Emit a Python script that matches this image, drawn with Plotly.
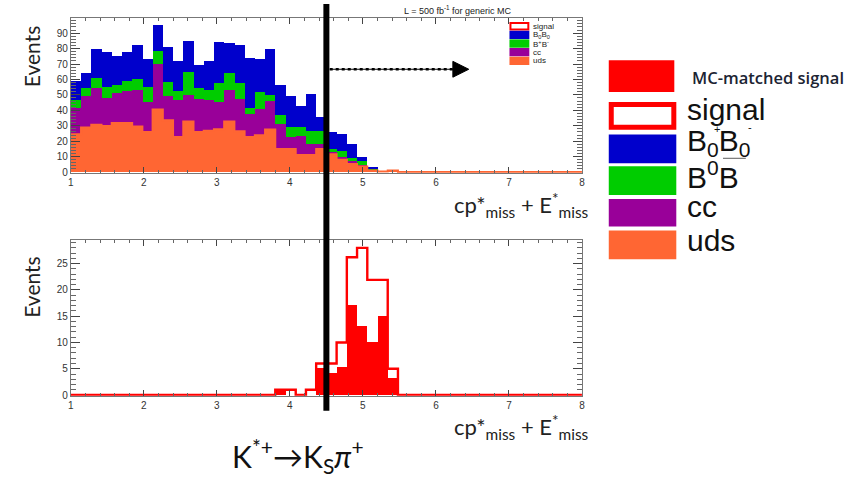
import numpy as np
import plotly.graph_objects as go

# ---------------- data ----------------
X_MIN, X_MAX, N_BINS = 1.0, 8.0, 50
CUT = 4.5  # hand-drawn selection cut

# top panel: stacked generic MC (50 bins, 1..8)
uds = [24.5, 28.8, 30.7, 29.9, 31.8, 31.8, 29.6, 26.0, 40.5, 33.5,
       22.8, 32.8, 26.0, 26.7, 27.7, 32.8, 26.4, 22.8, 23.9, 27.5,
       15.0, 15.0, 11.0, 11.0, 15.0, 11.5, 8.0, 5.3, 3.6, 1.0,
       0.4, 1.0] + [0.0] * 18
cc = [16.5, 20.0, 23.3, 18.1, 19.2, 20.2, 23.1, 19.2, 29.2, 15.3,
      23.5, 17.1, 21.3, 19.6, 17.5, 19.9, 20.5, 14.9, 17.0, 18.1,
      15.7, 7.5, 12.0, 7.0, 3.0, 1.0, 1.5, 1.5, 1.1, 0.5,
      0.0, 0.0] + [0.0] * 18
bpbm = [5.7, 5.2, 7.0, 7.0, 4.9, 7.0, 7.3, 10.0, 8.3, 9.2,
        5.7, 14.9, 6.9, 6.4, 12.4, 11.1, 10.7, 3.7, 10.7, 4.3,
        6.0, 6.2, 6.0, 8.7, 8.5, 2.0, 4.1, 2.2, 2.1, 0.9,
        0.0, 0.0] + [0.0] * 18
b0b0 = [12.3, 9.8, 18.7, 22.8, 19.1, 18.8, 21.9, 17.7, 16.9, 22.8,
        19.9, 19.8, 14.8, 19.2, 26.4, 19.4, 24.5, 32.6, 21.3, 29.8,
        19.8, 20.1, 13.6, 23.8, 9.1, 11.0, 10.7, 8.9, 2.6, 0.2,
        0.0, 0.0] + [0.0] * 18

# bottom panel: signal MC
signal = [0.0] * 20 + [1.0, 1.0, 0.0, 1.0, 6.0, 6.0, 10.0, 26.2, 28.0, 21.9,
                       21.9, 5.0] + [0.0] * 18
matched = [0.0] * 20 + [1.0, 0.0, 0.0, 0.0, 5.1, 4.1, 5.2, 17.1, 13.0, 10.0,
                        15.0, 3.1] + [0.0] * 18

x_ticks = [1, 2, 3, 4, 5, 6, 7, 8]
TOP_YMAX = 99.6
BOT_YMAX = 29.4

# ---------------- style ----------------
RED = "#ff0000"
BLUE = "#0000cc"
GREEN = "#00cc00"
PURPLE = "#990099"
ORANGE = "#ff6633"
W, H = 865, 482


def px(x):
    return x / W


def py(y):
    return 1 - y / H


edges = np.linspace(X_MIN, X_MAX, N_BINS + 1)
centers = 0.5 * (edges[:-1] + edges[1:])
bw = edges[1] - edges[0]

fig = go.Figure()

# stacked histogram (top)
for vals, color in [(uds, ORANGE), (cc, PURPLE), (bpbm, GREEN), (b0b0, BLUE)]:
    fig.add_trace(go.Bar(x=centers, y=vals, width=bw, marker=dict(color=color, line=dict(width=0)),
                         xaxis="x", yaxis="y", showlegend=False, hoverinfo="skip"))
fig.add_trace(go.Scatter(x=list(edges), y=uds + [uds[-1]], mode="lines", line=dict(color=ORANGE, width=2, shape="hv"),
                         xaxis="x", yaxis="y", showlegend=False, hoverinfo="skip"))

# bottom: matched signal filled + signal outline
fig.add_trace(go.Bar(x=centers, y=matched, width=bw, marker=dict(color=RED, line=dict(width=0)),
                     xaxis="x2", yaxis="y2", showlegend=False, hoverinfo="skip"))
fig.add_trace(go.Scatter(x=list(edges), y=signal + [signal[-1]], mode="lines",
                         line=dict(color=RED, width=2.4, shape="hv"),
                         xaxis="x2", yaxis="y2", showlegend=False, hoverinfo="skip"))

tickfont = dict(family="Liberation Sans, Arial, sans-serif", size=10, color="#333")
xdom = [px(68.3), px(583)]


def xax(anchor):
    return dict(domain=xdom, range=[X_MIN, X_MAX], anchor=anchor, tickmode="array", tickvals=x_ticks,
                ticktext=[str(t) for t in x_ticks], ticks="inside", ticklen=6, tickcolor="#444",
                minor=dict(dtick=0.2, tick0=1, ticks="inside", ticklen=3, tickcolor="#666"),
                showline=True, linecolor="#777", linewidth=1, mirror="allticks", showgrid=False,
                zeroline=False, tickfont=tickfont, fixedrange=True)


def yax(anchor, dom, rng, dt, mdt):
    return dict(domain=dom, range=rng, anchor=anchor, dtick=dt, tick0=0, ticks="inside", ticklen=9,
                tickcolor="#444", minor=dict(dtick=mdt, ticks="inside", ticklen=5, tickcolor="#666"),
                showline=True, linecolor="#777", linewidth=1, mirror="allticks", showgrid=False,
                zeroline=False, tickfont=tickfont, fixedrange=True)


shapes = []
annotations = []

# hand-drawn cut line and arrow
shapes.append(dict(type="line", xref="x", yref="paper", x0=CUT, x1=CUT, y0=py(415), y1=py(4),
                   line=dict(color="black", width=6)))
shapes.append(dict(type="line", xref="paper", yref="paper", x0=px(329), x1=px(456), y0=py(70), y1=py(70),
                   line=dict(color="black", width=2.5, dash="dot")))
shapes.append(dict(type="line", xref="paper", yref="paper", x0=px(329), x1=px(456), y0=py(70), y1=py(70),
                   line=dict(color="black", width=1.2)))
shapes.append(dict(type="path", xref="paper", yref="paper",
                   path=f"M {px(453)},{py(62)} L {px(469)},{py(70)} L {px(453)},{py(78)} Z",
                   fillcolor="black", line=dict(color="black", width=1)))

# small in-frame legend (top panel)
small_rows = [("signal", None), ("B<sub>0</sub>B<sub>0</sub>", BLUE), ("B<sup>+</sup>B<sup>-</sup>", GREEN),
              ("cc", PURPLE), ("uds", ORANGE)]
row_y = [26.5, 35.3, 44.0, 52.7, 61.5]
for (label, col), yc in zip(small_rows, row_y):
    if col is None:
        shapes.append(dict(type="rect", xref="paper", yref="paper", x0=px(511), x1=px(529), y0=py(yc + 3.2),
                           y1=py(yc - 3.2), fillcolor="white", line=dict(color=RED, width=2)))
    else:
        shapes.append(dict(type="rect", xref="paper", yref="paper", x0=px(510), x1=px(530), y0=py(yc + 4.2),
                           y1=py(yc - 4.2), fillcolor=col, line=dict(width=0)))
    annotations.append(dict(x=px(532), y=py(yc), xref="paper", yref="paper", text=label, showarrow=False,
                            xanchor="left", yanchor="middle",
                            font=dict(family="Liberation Sans, Arial", size=8, color="#222")))

annotations.append(dict(x=px(458), y=py(10), xref="paper", yref="paper",
                        text="L = 500 fb<sup>-1</sup> for generic MC", showarrow=False,
                        xanchor="center", yanchor="middle",
                        font=dict(family="Liberation Sans, Arial", size=9, color="#222")))

# axis titles
title_font = dict(family="Lato, sans-serif", size=21, color="#222")
for yc in [57, 290]:
    annotations.append(dict(x=px(29), y=py(yc), xref="paper", yref="paper", text="Events", textangle=-90,
                            showarrow=False, xanchor="center", yanchor="middle", font=title_font))
xlabel = "cp*<sub>miss</sub> + E<sup>*</sup><sub>miss</sub>"
for yc in [207, 431]:
    annotations.append(dict(x=px(592), y=py(yc), xref="paper", yref="paper", text=xlabel, showarrow=False,
                            xanchor="right", yanchor="middle", font=dict(family="Lato, sans-serif", size=22,
                                                                         color="#222")))
annotations.append(dict(x=px(297), y=py(461), xref="paper", yref="paper",
                        text="K<sup>*+</sup>→K<sub>S</sub><i>π</i><sup>+</sup>", showarrow=False,
                        xanchor="center", yanchor="middle",
                        font=dict(family="Lato, sans-serif", size=30, color="#111")))

# big legend on the right
shapes.append(dict(type="rect", xref="paper", yref="paper", x0=px(610), x1=px(676), y0=py(93), y1=py(61),
                   fillcolor=RED, line=dict(width=0)))
annotations.append(dict(x=px(692), y=py(78), xref="paper", yref="paper", text="MC-matched signal",
                        showarrow=False, xanchor="left", yanchor="middle",
                        font=dict(family="Open Sans, sans-serif", size=16.5, color="#1c2433", weight=600)))
big_rows = [("signal", None, 103, 131, 111), ("B<sub>0</sub>B<sub>0</sub>", BLUE, 136, 165, 144),
            ("B<sup>0</sup>B", GREEN, 168, 197, 177), ("cc", PURPLE, 201, 229, 209),
            ("uds", ORANGE, 233, 262, 243)]
for label, col, y0, y1, yt in big_rows:
    if col is None:
        shapes.append(dict(type="rect", xref="paper", yref="paper", x0=px(612.5), x1=px(675.5), y0=py(y1 - 2.5),
                           y1=py(y0 + 2.5), fillcolor="white", line=dict(color=RED, width=5)))
    else:
        shapes.append(dict(type="rect", xref="paper", yref="paper", x0=px(610), x1=px(678), y0=py(y1),
                           y1=py(y0), fillcolor=col, line=dict(width=0)))
    annotations.append(dict(x=px(687), y=py(yt), xref="paper", yref="paper", text=label, showarrow=False,
                            xanchor="left", yanchor="middle",
                            font=dict(family="Liberation Sans, Arial", size=30, color="#111")))
# stray superscripts / bar of the legend labels
annotations.append(dict(x=px(719), y=py(130), xref="paper", yref="paper", text="+", showarrow=False,
                        xanchor="center", yanchor="middle",
                        font=dict(family="Liberation Sans, Arial", size=11, color="#111")))
annotations.append(dict(x=px(752), y=py(128), xref="paper", yref="paper", text="-", showarrow=False,
                        xanchor="center", yanchor="middle",
                        font=dict(family="Liberation Sans, Arial", size=11, color="#111")))
shapes.append(dict(type="line", xref="paper", yref="paper", x0=px(725), x1=px(748), y0=py(160), y1=py(160),
                   line=dict(color="#777", width=1.2)))

fig.update_layout(
    width=W, height=H, margin=dict(l=0, r=0, t=0, b=0),
    paper_bgcolor="white", plot_bgcolor="white",
    barmode="stack", bargap=0, showlegend=False,
    xaxis=xax("y"),
    yaxis=yax("x", [py(174.5), py(18.5)], [-0.4, TOP_YMAX], 10, 2),
    xaxis2=xax("y2"),
    yaxis2=yax("x2", [py(400), py(243)], [-0.15, BOT_YMAX], 5, 1),
    shapes=shapes, annotations=annotations,
)

fig.write_html("out.html")
